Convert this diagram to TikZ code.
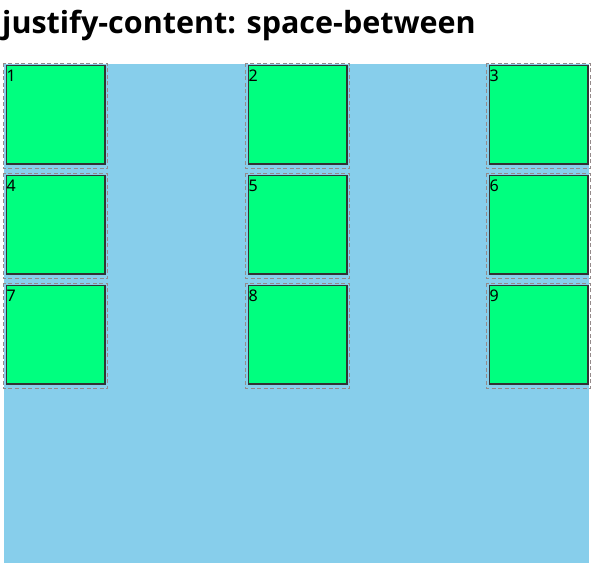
\documentclass[tikz,border=0pt]{standalone}
\usepackage{fontspec}
\setmainfont{Noto Sans}
\newfontfamily\headingfont{Open Sans}
\usetikzlibrary{positioning}
\definecolor{itemgreen}{HTML}{00FF7F}
\definecolor{boxblue}{HTML}{87CEEB}
\definecolor{outlinegray}{HTML}{958A8A}
\begin{document}
\begin{tikzpicture}[x=1pt,y=-1pt,
    item/.style={draw=black!80, fill=itemgreen, line width=1.2pt,
        minimum size=98.8pt, inner sep=0pt, anchor=north west},
    itemlabel/.style={anchor=north west, inner sep=0pt,
        font=\fontsize{16}{16}\selectfont},
    margin/.style={draw=outlinegray, line width=0.9pt,
        dash pattern=on 4pt off 2.5pt}
]
    \useasboundingbox (0,0) rectangle (600,576);

    % heading
    \node[anchor=base west, inner sep=0pt, font=\headingfont\bfseries\fontsize{30.5}{30.5}\selectfont]
        (title) at (2,33) {justify-content: space-between};

    % flex container
    \fill[boxblue] (4,64) rectangle (589,563);

    % nine items, three per row
    \foreach \n/\x/\y in {1/5/64, 2/247/64, 3/488/64,
                          4/5/174, 5/247/174, 6/488/174,
                          7/5/284, 8/247/284, 9/488/284}{
        \draw[margin] (\x-1.5,\y-1) rectangle (\x+102,\y+104.5);
        \node[item] (item\n) at (\x+0.6,\y+0.6) {};
        \node[itemlabel] (label\n) at (\x+1.5,\y+6) {\n};
    }

\end{tikzpicture}
\end{document}
